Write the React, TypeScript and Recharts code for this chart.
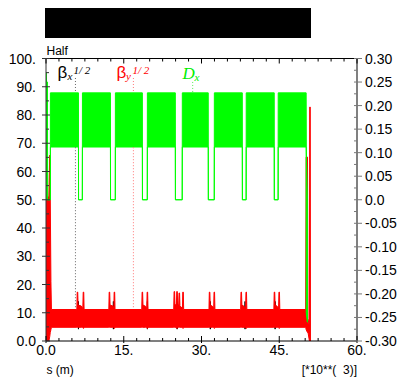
import React from 'react';
import { ComposedChart, Area, XAxis, YAxis, ReferenceLine } from 'recharts';

// ---------- data ----------
const xTicks = [0, 2.5, 5, 7.5, 10, 12.5, 15, 17.5, 20, 22.5, 25, 27.5, 30, 32.5, 35, 37.5, 40, 42.5, 45, 47.5, 50, 52.5, 55, 57.5, 60];
const xMajor = [0, 15, 30, 45, 60];
const xMajorLabels = ['0.0', '15.', '30.', '45.', '60.'];

const leftTicks = [0, 5, 10, 15, 20, 25, 30, 35, 40, 45, 50, 55, 60, 65, 70, 75, 80, 85, 90, 95, 100];
const leftMajor = [0, 10, 20, 30, 40, 50, 60, 70, 80, 90, 100];
const leftMajorLabels = ['0.0', '10.', '20.', '30.', '40.', '50.', '60.', '70.', '80.', '90.', '100.'];

const rightTicks = [-0.3, -0.275, -0.25, -0.225, -0.2, -0.175, -0.15, -0.125, -0.1, -0.075, -0.05, -0.025, 0, 0.025, 0.05, 0.075, 0.1, 0.125, 0.15, 0.175, 0.2, 0.225, 0.25, 0.275, 0.3];
const rightMajor = [-0.3, -0.25, -0.2, -0.15, -0.1, -0.05, 0, 0.05, 0.1, 0.15, 0.2, 0.25, 0.3];
const rightMajorLabels = ['-0.30', '-0.25', '-0.20', '-0.15', '-0.10', '-0.05', '0.0', '0.05', '0.10', '0.15', '0.20', '0.25', '0.30'];

// Dx (right axis): start region, dense blocks (band low/high), end region
const dxStart = [
  { s: 0, lo: 0, hi: 0 },
  { s: 0.04, lo: 0, hi: 0.27 },
  { s: 0.12, lo: 0, hi: 0.25 },
  { s: 0.28, lo: 0, hi: 0.25 },
  { s: 0.32, lo: 0, hi: 0 },
  { s: 0.82, lo: 0, hi: 0 },
];
const dxBlocks = [
  [0.85, 6.26],
  [7.03, 12.43],
  [13.39, 18.59],
  [19.56, 24.95],
  [26.3, 31.3],
  [32.48, 37.87],
  [38.63, 44.03],
  [44.8, 50.19],
];
const dxBandLow = 0.112;
const dxBandHigh = 0.227;
const dxEnd = [
  { s: 50.22, lo: -0.24, hi: 0.112 },
  { s: 50.42, lo: -0.26, hi: 0 },
  { s: 50.46, lo: -0.26, hi: -0.26 },
];

// beta_y^(1/2) (left axis)
const betaYBand = [
  { s: 0, lo: 0, hi: 0 },
  { s: 0.03, lo: 0, hi: 70.4 },
  { s: 0.12, lo: 0, hi: 51 },
  { s: 0.55, lo: 0, hi: 51 },
  { s: 0.72, lo: 1.5, hi: 65.8 },
  { s: 0.82, lo: 3, hi: 51 },
  { s: 0.95, lo: 4, hi: 21 },
  { s: 1.05, lo: 4.85, hi: 11.15 },
  { s: 5.95, lo: 4.85, hi: 11.15 },
  { s: 6.02, lo: 4.85, hi: 17.3 },
  { s: 6.12, lo: 4.85, hi: 17.3 },
  { s: 6.19, lo: 4.85, hi: 12.7 },
  { s: 6.8, lo: 4.85, hi: 12.4 },
  { s: 7.1, lo: 4.85, hi: 11.5 },
  { s: 7.18, lo: 4.5, hi: 17.3 },
  { s: 7.28, lo: 4.5, hi: 17.3 },
  { s: 7.35, lo: 4.85, hi: 11.15 },
  { s: 12.12, lo: 4.85, hi: 11.15 },
  { s: 12.19, lo: 4.85, hi: 17.3 },
  { s: 12.29, lo: 4.85, hi: 17.3 },
  { s: 12.36, lo: 4.85, hi: 12.7 },
  { s: 12.9, lo: 4.85, hi: 12.4 },
  { s: 13.08, lo: 4.85, hi: 11.5 },
  { s: 13.15, lo: 4.5, hi: 17.3 },
  { s: 13.25, lo: 4.5, hi: 17.3 },
  { s: 13.32, lo: 4.85, hi: 11.15 },
  { s: 18.47, lo: 4.85, hi: 11.15 },
  { s: 18.54, lo: 4.85, hi: 17.3 },
  { s: 18.64, lo: 4.85, hi: 17.3 },
  { s: 18.71, lo: 4.85, hi: 12.7 },
  { s: 19.2, lo: 4.85, hi: 12.3 },
  { s: 19.44, lo: 4.85, hi: 11.5 },
  { s: 19.51, lo: 4.5, hi: 17.3 },
  { s: 19.61, lo: 4.5, hi: 17.3 },
  { s: 19.68, lo: 4.85, hi: 11.15 },
  { s: 24.64, lo: 4.85, hi: 11.15 },
  { s: 24.71, lo: 4.85, hi: 17.5 },
  { s: 24.81, lo: 4.85, hi: 17.5 },
  { s: 24.88, lo: 4.85, hi: 12.7 },
  { s: 25.16, lo: 4.85, hi: 13 },
  { s: 25.23, lo: 4.5, hi: 17.5 },
  { s: 25.33, lo: 4.5, hi: 17.5 },
  { s: 25.4, lo: 4.85, hi: 13 },
  { s: 25.6, lo: 4.85, hi: 12.8 },
  { s: 25.67, lo: 4.85, hi: 17 },
  { s: 25.77, lo: 4.85, hi: 17 },
  { s: 25.84, lo: 4.85, hi: 12.5 },
  { s: 26.32, lo: 4.85, hi: 11.5 },
  { s: 26.39, lo: 4.5, hi: 17.3 },
  { s: 26.49, lo: 4.5, hi: 17.3 },
  { s: 26.56, lo: 4.85, hi: 11.15 },
  { s: 31.44, lo: 4.85, hi: 11.15 },
  { s: 31.51, lo: 4.85, hi: 17.3 },
  { s: 31.61, lo: 4.85, hi: 17.3 },
  { s: 31.68, lo: 4.85, hi: 12.7 },
  { s: 32.1, lo: 4.85, hi: 12.3 },
  { s: 32.35, lo: 4.85, hi: 11.5 },
  { s: 32.42, lo: 4.5, hi: 17.3 },
  { s: 32.52, lo: 4.5, hi: 17.3 },
  { s: 32.59, lo: 4.85, hi: 11.15 },
  { s: 37.55, lo: 4.85, hi: 11.15 },
  { s: 37.62, lo: 4.85, hi: 17.3 },
  { s: 37.72, lo: 4.85, hi: 17.3 },
  { s: 37.79, lo: 4.85, hi: 12.7 },
  { s: 38.2, lo: 4.85, hi: 12.3 },
  { s: 38.51, lo: 4.85, hi: 11.5 },
  { s: 38.58, lo: 4.5, hi: 17.3 },
  { s: 38.68, lo: 4.5, hi: 17.3 },
  { s: 38.75, lo: 4.85, hi: 11.15 },
  { s: 43.96, lo: 4.85, hi: 11.15 },
  { s: 44.03, lo: 4.85, hi: 17.3 },
  { s: 44.13, lo: 4.85, hi: 17.3 },
  { s: 44.2, lo: 4.85, hi: 12.7 },
  { s: 44.6, lo: 4.85, hi: 12.3 },
  { s: 44.87, lo: 4.85, hi: 11.5 },
  { s: 44.94, lo: 4.5, hi: 17.3 },
  { s: 45.04, lo: 4.5, hi: 17.3 },
  { s: 45.11, lo: 4.85, hi: 11.15 },
  { s: 50.1, lo: 4.85, hi: 11.15 },
  { s: 50.19, lo: 4, hi: 65.1 },
  { s: 50.45, lo: 3, hi: 65.1 },
  { s: 50.55, lo: 3, hi: 8 },
  { s: 50.82, lo: 0, hi: 5 },
  { s: 50.88, lo: 0, hi: 82.8 },
  { s: 50.98, lo: 0, hi: 82.8 },
  { s: 51.02, lo: 0, hi: 0 },
];

// beta_x^(1/2) (left axis), mostly hidden under beta_y
const betaXBand = [
  { s: 1.05, lo: 5.5, hi: 10 },
  { s: 6.2, lo: 5.5, hi: 10 },
  { s: 6.26, lo: 4.2, hi: 14 },
  { s: 6.32, lo: 5.5, hi: 10 },
  { s: 12.95, lo: 5.5, hi: 10 },
  { s: 13.0, lo: 4.2, hi: 14 },
  { s: 13.05, lo: 5.5, hi: 10 },
  { s: 19.5, lo: 5.5, hi: 10 },
  { s: 19.56, lo: 4.2, hi: 14 },
  { s: 19.62, lo: 5.5, hi: 10 },
  { s: 25.25, lo: 5.5, hi: 10 },
  { s: 25.3, lo: 4.2, hi: 14 },
  { s: 25.35, lo: 5.5, hi: 10 },
  { s: 31.65, lo: 5.5, hi: 10 },
  { s: 31.7, lo: 4.2, hi: 14 },
  { s: 31.75, lo: 5.5, hi: 10 },
  { s: 38.35, lo: 5.5, hi: 10 },
  { s: 38.4, lo: 4.2, hi: 14 },
  { s: 38.45, lo: 5.5, hi: 10 },
  { s: 44.15, lo: 5.5, hi: 10 },
  { s: 44.2, lo: 4.2, hi: 14 },
  { s: 44.25, lo: 5.5, hi: 10 },
  { s: 50.1, lo: 5.5, hi: 10 },
];

// label marker dotted segments (s, from, to in left-axis units); visible parts only
const markerSegments = [
  { s: 5.68, y1: 93.1, y2: 87.9, color: '#666666' },
  { s: 5.68, y1: 68.6, y2: 11.3, color: '#666666' },
  { s: 16.86, y1: 93.1, y2: 87.9, color: '#ff7777' },
  { s: 16.86, y1: 68.6, y2: 11.3, color: '#ff7777' },
  { s: 28.3, y1: 91.7, y2: 87.9, color: '#55ee55' },
];

// ---------- built tables ----------
const dxBand = [
  ...dxStart,
  ...dxBlocks.flatMap(([a, b]) => [
    { s: a - 0.02, lo: 0, hi: 0 },
    { s: a, lo: dxBandLow, hi: dxBandHigh },
    { s: b, lo: dxBandLow, hi: dxBandHigh },
    { s: b + 0.02, lo: 0, hi: 0 },
  ]).slice(0, -1),
  ...dxEnd,
];

const FONT = '"Liberation Sans", Arial, Helvetica, sans-serif';
const SERIF = '"Liberation Serif", "Times New Roman", serif';

const near = (arr: number[], v: number) => arr.findIndex((m) => Math.abs(m - v) < 1e-6);

const BottomTick = (props: any) => {
  const { x, y, payload } = props;
  const i = near(xMajor, payload.value);
  const major = i >= 0;
  return (
    <g>
      <line x1={x} x2={x} y1={y - (major ? 5 : 3)} y2={y + (major ? 2 : 0)} stroke="#000" strokeWidth={1} />
      {major && (
        <text x={x} y={y + 14} textAnchor="middle" fontSize={14} fontFamily={FONT} fill="#000">
          {xMajorLabels[i]}
        </text>
      )}
    </g>
  );
};

const TopTick = (props: any) => {
  const { x, y, payload } = props;
  const major = near(xMajor, payload.value) >= 0;
  return <line x1={x} x2={x} y1={y} y2={y + (major ? 5 : 3)} stroke="#000" strokeWidth={1} />;
};

const LeftTick = (props: any) => {
  const { x, y, payload } = props;
  const i = near(leftMajor, payload.value);
  const major = i >= 0;
  return (
    <g>
      <line x1={x - (major ? 4 : 0)} x2={x + (major ? 4 : 3)} y1={y} y2={y} stroke="#333" strokeWidth={1} />
      {major && (
        <text x={x - 10} y={y + 5} textAnchor="end" fontSize={14} fontFamily={FONT} fill="#000">
          {leftMajorLabels[i]}
        </text>
      )}
    </g>
  );
};

const RightTick = (props: any) => {
  const { x, y, payload } = props;
  const i = near(rightMajor, payload.value);
  const major = i >= 0;
  return (
    <g>
      <line x1={x - 3} x2={x + (major ? 5 : 0)} y1={y} y2={y} stroke="#777" strokeWidth={1} />
      {major && (
        <text x={x + 8} y={y + 5} textAnchor="start" fontSize={14} fontFamily={FONT} fill="#000">
          {rightMajorLabels[i]}
        </text>
      )}
    </g>
  );
};

const rangeKey = (d: any) => [d.lo, d.hi];

export default function App() {
  return (
    <div style={{ position: 'absolute', left: 0, top: 0, width: 402, height: 377, background: '#fff' }}>
      <ComposedChart width={402} height={377} margin={{ top: 57.5, right: 0, bottom: 0, left: 0 }}>
        <XAxis
          xAxisId="bottom"
          dataKey="s"
          type="number"
          domain={[0, 60]}
          ticks={xTicks}
          interval={0}
          allowDataOverflow
          height={36}
          tickSize={0}
          tickMargin={0}
          tickLine={false}
          axisLine={{ stroke: '#000' }}
          tick={(p: any) => <BottomTick {...p} />}
        />
        <XAxis
          xAxisId="top"
          orientation="top"
          dataKey="s"
          type="number"
          domain={[0, 60]}
          ticks={xTicks}
          interval={0}
          allowDataOverflow
          height={1}
          tickSize={0}
          tickMargin={0}
          tickLine={false}
          axisLine={{ stroke: '#000' }}
          tick={(p: any) => <TopTick {...p} />}
        />
        <YAxis
          yAxisId="left"
          type="number"
          domain={[0, 100]}
          ticks={leftTicks}
          interval={0}
          allowDataOverflow
          width={46}
          tickSize={0}
          tickMargin={0}
          tickLine={false}
          axisLine={{ stroke: '#333' }}
          tick={(p: any) => <LeftTick {...p} />}
        />
        <YAxis
          yAxisId="right"
          orientation="right"
          type="number"
          domain={[-0.3, 0.3]}
          ticks={rightTicks}
          interval={0}
          allowDataOverflow
          width={45}
          tickSize={0}
          tickMargin={0}
          tickLine={false}
          axisLine={{ stroke: '#808080', strokeWidth: 2 }}
          tick={(p: any) => <RightTick {...p} />}
        />
        {markerSegments.map((m, i) => (
          <ReferenceLine
            key={i}
            xAxisId="bottom"
            yAxisId="left"
            segment={[{ x: m.s, y: m.y1 }, { x: m.s, y: m.y2 }]}
            stroke={m.color}
            strokeWidth={1}
            strokeDasharray="1 2"
          />
        ))}
        <Area
          data={betaXBand}
          xAxisId="bottom"
          yAxisId="left"
          dataKey={rangeKey}
          type="linear"
          stroke="#000"
          strokeWidth={1}
          fill="#000"
          fillOpacity={1}
          dot={false}
          activeDot={false}
          isAnimationActive={false}
        />
        <Area
          data={betaYBand}
          xAxisId="bottom"
          yAxisId="left"
          dataKey={rangeKey}
          type="linear"
          stroke="#ff0000"
          strokeWidth={1}
          fill="#ff0000"
          fillOpacity={1}
          dot={false}
          activeDot={false}
          isAnimationActive={false}
        />
        <Area
          data={dxBand}
          xAxisId="bottom"
          yAxisId="right"
          dataKey={rangeKey}
          type="linear"
          stroke="#00ff00"
          strokeWidth={1}
          fill="#00ff00"
          fillOpacity={1}
          dot={false}
          activeDot={false}
          isAnimationActive={false}
        />
      </ComposedChart>
      <svg width={402} height={377} style={{ position: 'absolute', left: 0, top: 0, pointerEvents: 'none' }}>
        <rect x={45} y={8} width={266} height={30} fill="#000" />
        <text x={46.5} y={55} fontSize={12} fontFamily={FONT} fill="#000">Half</text>
        <text x={46.5} y={374} fontSize={12} fontFamily={FONT} fill="#000">s (m)</text>
        <text x={357} y={374} fontSize={12} fontFamily={FONT} fill="#000" textAnchor="end" style={{ whiteSpace: 'pre' }}>
          {'[*10**(  3)]'}
        </text>
        <text x={57.5} y={78} fontSize={17} fontFamily={FONT} fill="#000">β</text>
        <text x={67.5} y={80} fontSize={11} fontFamily={SERIF} fontStyle="italic" fill="#000">x</text>
        <text x={73.5} y={73.5} fontSize={11} fontFamily={SERIF} fontStyle="italic" fill="#000" style={{ whiteSpace: 'pre' }}>
          {'1/ 2'}
        </text>
        <text x={116.5} y={78} fontSize={17} fontFamily={FONT} fill="#ff0000">β</text>
        <text x={126} y={80} fontSize={11} fontFamily={SERIF} fontStyle="italic" fill="#ff0000">y</text>
        <text x={132.5} y={73.5} fontSize={11} fontFamily={SERIF} fontStyle="italic" fill="#ff0000" style={{ whiteSpace: 'pre' }}>
          {'1/ 2'}
        </text>
        <text x={182.5} y={79} fontSize={17} fontFamily={SERIF} fontStyle="italic" fill="#00ee00">D</text>
        <text x={194.5} y={81} fontSize={11} fontFamily={SERIF} fontStyle="italic" fill="#00ee00">x</text>
      </svg>
    </div>
  );
}
